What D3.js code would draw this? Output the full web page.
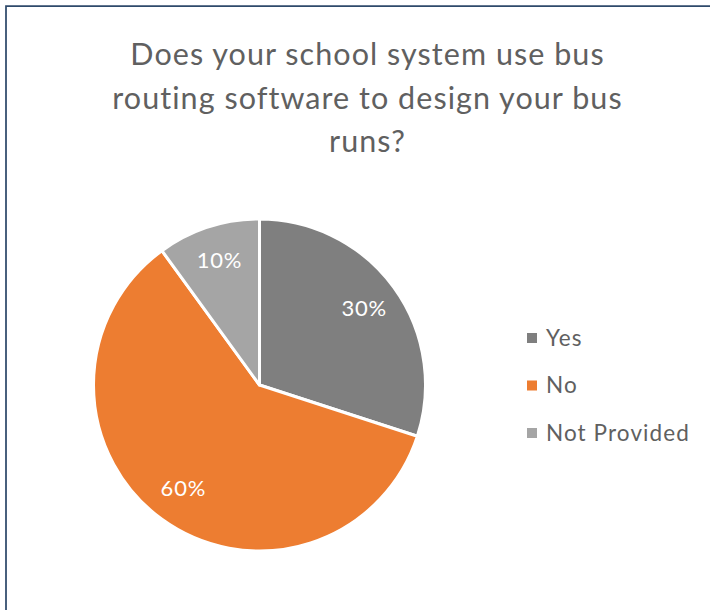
<!DOCTYPE html>
<html>
<head>
<meta charset="utf-8">
<script src="https://cdn.jsdelivr.net/npm/d3@7"></script>
<style>
  html, body { margin: 0; padding: 0; background: #fff; }
  svg { display: block; }
  text { font-family: Lato, "Noto Sans", sans-serif; }
</style>
</head>
<body>
<svg id="chart" width="710" height="610"></svg>
<script>
// Survey answers and their shares
const categories = ["Yes", "No", "Not Provided"];
const shares = [30, 60, 10];
const colors = ["#7f7f7f", "#ed7d31", "#a5a5a5"];
const titleLines = [
  "Does your school system use bus",
  "routing software to design your bus",
  "runs?"
];

const svg = d3.select("#chart");

// Chart frame (cut off on the right and bottom)
svg.append("path")
  .attr("d", "M6,612 L6,6 L712,6")
  .attr("fill", "none")
  .attr("stroke", "#2f4a6b")
  .attr("stroke-width", 1.75);

// Title
svg.append("g")
  .selectAll("text")
  .data(titleLines)
  .join("text")
  .attr("x", 367.5)
  .attr("y", (d, i) => 65 + i * 43.5)
  .attr("text-anchor", "middle")
  .attr("font-size", 30.5)
  .attr("letter-spacing", 1.05)
  .attr("fill", "#606060")
  .text(d => d);

// Pie
const cx = 259.5, cy = 385, r = 166;
const pie = d3.pie().sort(null).value(d => d.value);
const arcs = pie(categories.map((c, i) => ({ name: c, value: shares[i], color: colors[i] })));
const arc = d3.arc().innerRadius(0).outerRadius(r);
const labelArc = d3.arc().innerRadius(r * 0.78).outerRadius(r * 0.78);

const g = svg.append("g").attr("transform", `translate(${cx},${cy})`);

g.selectAll("path")
  .data(arcs)
  .join("path")
  .attr("d", arc)
  .attr("fill", d => d.data.color)
  .attr("stroke", "#fff")
  .attr("stroke-width", 3)
  .attr("stroke-linejoin", "round");

g.selectAll("text")
  .data(arcs)
  .join("text")
  .attr("transform", d => `translate(${labelArc.centroid(d)})`)
  .attr("text-anchor", "middle")
  .attr("dy", "0.3em")
  .attr("font-size", 22)
  .attr("letter-spacing", 0.8)
  .attr("fill", "#fff")
  .text(d => d.data.value + "%");

// Legend
const legend = svg.append("g")
  .selectAll("g")
  .data(categories)
  .join("g")
  .attr("transform", (d, i) => `translate(527,${338 + i * 47.5})`);

legend.append("rect")
  .attr("x", 0)
  .attr("y", -5)
  .attr("width", 10)
  .attr("height", 10)
  .attr("fill", (d, i) => colors[i]);

legend.append("text")
  .attr("x", 19)
  .attr("dy", "0.35em")
  .attr("font-size", 22.5)
  .attr("letter-spacing", 1.1)
  .attr("fill", "#606060")
  .text(d => d);
</script>
</body>
</html>
